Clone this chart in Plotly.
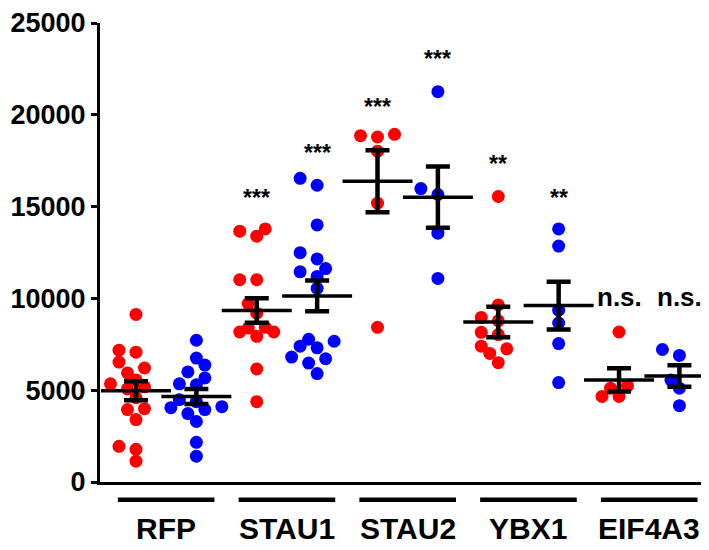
import plotly.graph_objects as go

# ---------------- data ----------------
groups = ["RFP", "STAU1", "STAU2", "YBX1", "EIF4A3"]

red_values = [
    [9125, 7073, 7181, 6533, 6210, 5940, 5562, 5184, 5346, 5076, 4590, 3942, 3996, 3402, 1944, 1782, 1134],
    [13661, 13391, 13786, 11015, 11015, 9719, 9197, 8423, 8170, 7937, 8170, 8387, 6155, 4374],
    [18861, 18790, 18934, 18018, 15189, 8423],
    [15551, 9647, 8963, 8783, 8153, 8027, 7253, 7397, 7001, 6497],
    [8171, 5112, 5238, 4662, 4662],
]
blue_values = [
    [7721, 6749, 6371, 5994, 5670, 5292, 5346, 4482, 4374, 4050, 4104, 3942, 3726, 3294, 2160, 1404],
    [16540, 16163, 14002, 12490, 12149, 11627, 11447, 11195, 10547, 7775, 7397, 7307, 7667, 6713, 6479, 6803, 5903],
    [21258, 15983, 15659, 13553, 11087],
    [13786, 12851, 9359, 8657, 7541, 5417],
    [6893, 7218, 5562, 5112, 4158],
]
red_mean = [4967, 9341, 16377, 8711, 5562]
red_sem = [520, 670, 1690, 830, 630]
blue_mean = [4660, 10135, 15513, 9611, 5778]
blue_sem = [405, 840, 1665, 1300, 585]

sig_red = ["", "***", "***", "**", "n.s."]
sig_blue = ["", "***", "***", "**", "n.s."]
sig_red_y = [None, 15621, 20589, 17495, 9989]
sig_blue_y = [None, 18105, 23218, 15605, 9989]

y_ticks = [0, 5000, 10000, 15000, 20000, 25000]
y_tick_text = ["0", "5000", "10000", "15000", "20000", "25000"]

# ---------------- layout constants ----------------
# the page body has an 8px margin, so the figure is 8px smaller than the window
W, H = 701, 542
ML, MR, MT, MB = 92, 0, 11, 68
XR = [-0.596, 9.49]
YR = [0, 25000]
plot_w = W - ML - MR
plot_h = H - MT - MB
px_per_x = plot_w / (XR[1] - XR[0])
px_per_y = plot_h / (YR[1] - YR[0])

RED = "#FF0000"
BLUE = "#0000FF"
FONT = "Liberation Sans"
DOT = 13


def swarm(values, center, step_px=8.5, min_d=11.0, max_k=3):
    """Simple beeswarm: horizontal offsets so that dots barely overlap."""
    order = sorted(range(len(values)), key=lambda i: values[i])
    placed = []  # (x_px, y_px)
    xs = [0.0] * len(values)
    cands = [0]
    for k in range(1, max_k + 1):
        cands += [-k, k]
    for i in order:
        ypx = values[i] * px_per_y
        best, best_d = 0, -1.0
        chosen = None
        for c in cands:
            xpx = c * step_px
            d = min([((xpx - px) ** 2 + (ypx - py) ** 2) ** 0.5 for px, py in placed] or [1e9])
            if d >= min_d:
                chosen = xpx
                break
            if d > best_d:
                best, best_d = xpx, d
        if chosen is None:
            chosen = best
        placed.append((chosen, ypx))
        xs[i] = center + chosen / px_per_x
    return xs


fig = go.Figure()

for g in range(len(groups)):
    for col, vals, color in ((2 * g, red_values[g], RED), (2 * g + 1, blue_values[g], BLUE)):
        fig.add_trace(go.Scatter(
            x=swarm(vals, col), y=vals, mode="markers",
            marker=dict(color=color, size=DOT, line=dict(width=0)),
            showlegend=False, cliponaxis=False, hoverinfo="y"))

# mean +/- SEM
for means, sems, off in ((red_mean, red_sem, 0), (blue_mean, blue_sem, 1)):
    fig.add_trace(go.Scatter(
        x=[2 * g + off for g in range(len(groups))], y=means, mode="markers",
        marker=dict(symbol="line-ew", size=50, color="black",
                    line=dict(color="black", width=3.5)),
        error_y=dict(type="data", array=sems, visible=True,
                     color="black", thickness=4.5, width=12),
        showlegend=False, cliponaxis=False))

annotations = []
for g in range(len(groups)):
    for off, txt, yv in ((0, sig_red[g], sig_red_y[g]), (1, sig_blue[g], sig_blue_y[g])):
        if not txt:
            continue
        ns = txt == "n.s."
        annotations.append(dict(
            x=2 * g + off, y=yv, xref="x", yref="y", text=txt, showarrow=False,
            font=dict(family=FONT, size=26 if ns else 23, color="black", weight="bold"),
            xanchor="center", yanchor="middle", yshift=2 if ns else -3))
    # group label
    annotations.append(dict(
        x=2 * g + 0.5, y=-0.1016, xref="x", yref="paper", text=groups[g],
        showarrow=False, font=dict(family=FONT, size=30, color="black", weight="bold"),
        xanchor="center", yanchor="middle"))

shapes = []
for g in range(len(groups)):
    shapes.append(dict(type="line", xref="x", yref="paper",
                       x0=2 * g + 0.5 - 0.8, x1=2 * g + 0.5 + 0.8,
                       y0=-0.0389, y1=-0.0389,
                       line=dict(color="black", width=4.5)))

fig.update_layout(
    width=W, height=H,
    margin=dict(l=ML, r=MR, t=MT, b=MB, pad=0),
    paper_bgcolor="white", plot_bgcolor="white",
    annotations=annotations, shapes=shapes,
    xaxis=dict(range=XR, showgrid=False, zeroline=False, showticklabels=False,
               ticks="", showline=True, linecolor="black", linewidth=3),
    yaxis=dict(range=YR, showgrid=False, zeroline=False,
               tickvals=y_ticks, ticktext=y_tick_text, ticklabeloverflow="allow",
               ticks="outside", ticklen=6, tickwidth=3, tickcolor="black",
               showline=True, linecolor="black", linewidth=3,
               tickfont=dict(family=FONT, size=27, color="black", weight="bold")),
)

fig.write_html("out.html")
